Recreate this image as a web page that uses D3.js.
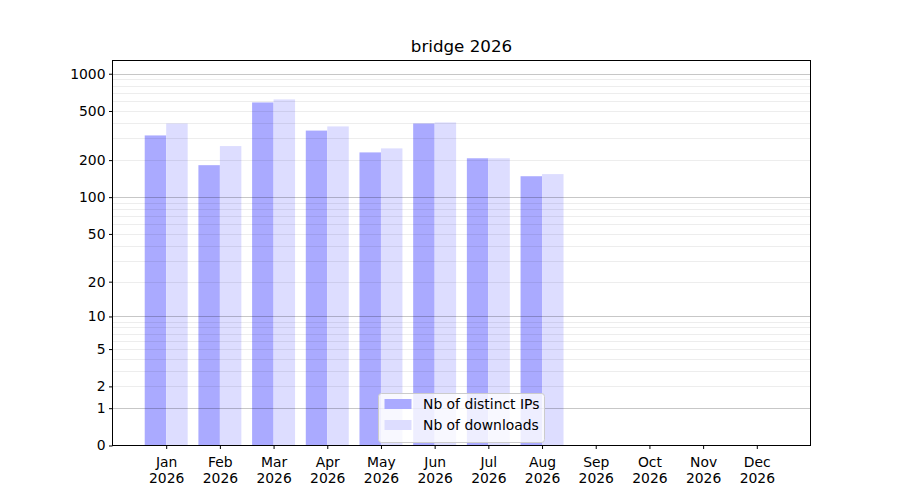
<!DOCTYPE html>
<html>
<head>
<meta charset="utf-8">
<script src="https://cdn.jsdelivr.net/npm/d3@7"></script>
<style>
  body { margin: 0; background: #fff; }
  svg { font-family: "DejaVu Sans", sans-serif; }
  text { fill: #000; }
</style>
</head>
<body>
<svg id="chart" width="900" height="500"></svg>
<script>
// data
const months = ["Jan", "Feb", "Mar", "Apr", "May", "Jun", "Jul", "Aug", "Sep", "Oct", "Nov", "Dec"];
const year = "2026";
const distinctIPs = [317, 182, 586, 347, 231, 396, 207, 148, null, null, null, null];
const downloads = [396, 260, 620, 375, 249, 404, 207, 154, null, null, null, null];
const yTicks = [0, 1, 2, 5, 10, 20, 50, 100, 200, 500, 1000];
const majorGrid = [1, 10, 100, 1000];
const minorGrid = [2, 3, 4, 5, 6, 7, 8, 9, 20, 30, 40, 50, 60, 70, 80, 90,
  200, 300, 400, 500, 600, 700, 800, 900];

const svg = d3.select("#chart");
const plotLeft = 112.5, plotRight = 810.5, plotTop = 60.5, plotBottom = 445.5;
const fontSize = 13.9;

// y is log(1 + v), i.e. symlog with constant 1
const y = d3.scaleSymlog().constant(1).domain([0, 1279]).range([plotBottom, plotTop]);
const x = d3.scaleLinear().domain([-1, 12]).range([plotLeft, plotRight]);
const barW = 0.4;

const plot = svg.append("g");

// bars
plot.selectAll("rect.ips")
  .data(distinctIPs.map((v, i) => ({ v, i })).filter(d => d.v != null))
  .join("rect")
  .attr("class", "ips")
  .attr("x", d => x(d.i - barW))
  .attr("width", d => x(barW) - x(0))
  .attr("y", d => y(d.v))
  .attr("height", d => plotBottom - y(d.v))
  .attr("fill", "#aaaaff");

plot.selectAll("rect.dl")
  .data(downloads.map((v, i) => ({ v, i })).filter(d => d.v != null))
  .join("rect")
  .attr("class", "dl")
  .attr("x", d => x(d.i))
  .attr("width", d => x(barW) - x(0))
  .attr("y", d => y(d.v))
  .attr("height", d => plotBottom - y(d.v))
  .attr("fill", "#ddddff");

// grid, drawn over the bars
plot.selectAll("line.minor")
  .data(minorGrid)
  .join("line")
  .attr("class", "minor")
  .attr("x1", plotLeft).attr("x2", plotRight)
  .attr("y1", d => Math.round(y(d)) + 0.5).attr("y2", d => Math.round(y(d)) + 0.5)
  .attr("stroke", "#000").attr("stroke-opacity", 0.07);

plot.selectAll("line.major")
  .data(majorGrid)
  .join("line")
  .attr("class", "major")
  .attr("x1", plotLeft).attr("x2", plotRight)
  .attr("y1", d => Math.round(y(d)) + 0.5).attr("y2", d => Math.round(y(d)) + 0.5)
  .attr("stroke", "#000").attr("stroke-opacity", 0.22);

// axes
const yAxis = d3.axisLeft(y).tickValues(yTicks).tickFormat(d3.format("d"))
  .tickSize(3.5).tickPadding(3.5);
svg.append("g")
  .attr("transform", `translate(${plotLeft},0)`)
  .call(yAxis)
  .call(g => g.select(".domain").remove())
  .call(g => g.selectAll("text").attr("font-size", fontSize).attr("font-family", "DejaVu Sans").attr("fill", "#000"));

const xAxis = d3.axisBottom(x).tickValues(d3.range(12)).tickFormat(() => "")
  .tickSize(3.5);
const xg = svg.append("g")
  .attr("transform", `translate(0,${plotBottom})`)
  .call(xAxis)
  .call(g => g.select(".domain").remove());

xg.selectAll(".tick").append("text")
  .attr("text-anchor", "middle")
  .attr("font-size", fontSize)
  .attr("font-family", "DejaVu Sans")
  .attr("fill", "#000")
  .selectAll("tspan")
  .data(d => [months[d], year])
  .join("tspan")
  .attr("x", 0)
  .attr("y", (d, i) => 21.5 + i * 15.5)
  .text(d => d);

// frame
svg.append("rect")
  .attr("x", plotLeft).attr("y", plotTop)
  .attr("width", plotRight - plotLeft).attr("height", plotBottom - plotTop)
  .attr("fill", "none").attr("stroke", "#000").attr("stroke-width", 1);

// title
svg.append("text")
  .attr("x", (plotLeft + plotRight) / 2).attr("y", 52)
  .attr("text-anchor", "middle")
  .attr("font-size", 16.7)
  .text("bridge " + year);

// legend
const legend = svg.append("g").attr("transform", "translate(378.5,393.5)");
legend.append("rect")
  .attr("width", 166).attr("height", 49).attr("rx", 3)
  .attr("fill", "#fff").attr("fill-opacity", 0.8)
  .attr("stroke", "#ccc");
const items = [["Nb of distinct IPs", "#aaaaff"], ["Nb of downloads", "#ddddff"]];
items.forEach(([label, color], i) => {
  legend.append("rect")
    .attr("x", 6).attr("y", 5.5 + i * 21)
    .attr("width", 27).attr("height", 10)
    .attr("fill", color);
  legend.append("text")
    .attr("x", 44.5).attr("y", 15.5 + i * 21)
    .attr("font-size", fontSize)
    .text(label);
});
</script>
</body>
</html>
